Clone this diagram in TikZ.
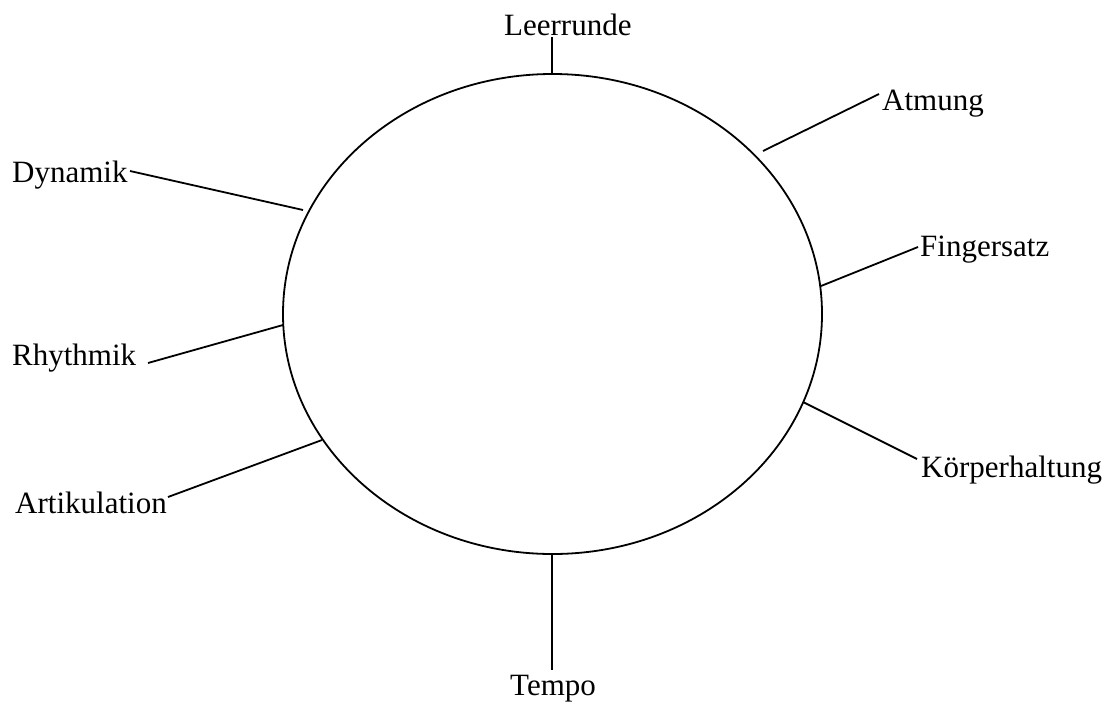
\documentclass[tikz,border=0pt]{standalone}
\usepackage{fontspec}
\setmainfont{Liberation Serif}
\begin{document}
\begin{tikzpicture}[x=1pt,y=-1pt,
  lbl/.style={inner sep=0pt,anchor=base west,font=\fontsize{31}{36}\selectfont},
  conn/.style={line width=1.8pt,black}]
\useasboundingbox (0,0) rectangle (1114,702);
\draw[line width=1.8pt] (552.5,314) ellipse [x radius=269.5, y radius=240];
% ellipse points
\coordinate (eL) at (552,74);
\coordinate (eA) at (763,151);
\coordinate (eF) at (821,286);
\coordinate (eK) at (803,402);
\coordinate (eT) at (552,555);
\coordinate (eAr) at (322,440);
\coordinate (eR) at (283,325);
\coordinate (eD) at (303,210);
% free ends
\coordinate (fL) at (552,37);
\coordinate (fA) at (879,94);
\coordinate (fF) at (918,247);
\coordinate (fK) at (917,459);
\coordinate (fT) at (552,670);
\coordinate (fAr) at (168,497);
\coordinate (fR) at (148,363);
\coordinate (fD) at (130,171);
% labels
\node[lbl] (tL) at (504,35) {Leerrunde};
\node[lbl] (tA) at (882,110) {Atmung};
\node[lbl] (tF) at (920,256) {Fingersatz};
\node[lbl] (tK) at (921,477) {Körperhaltung};
\node[lbl] (tT) at (510,695) {Tempo};
\node[lbl] (tAr) at (15,513) {Artikulation};
\node[lbl] (tR) at (12,365) {Rhythmik};
\node[lbl] (tD) at (12,182) {Dynamik};
% connectors
\draw[conn] (eL) -- (fL);
\draw[conn] (eA) -- (fA);
\draw[conn] (eF) -- (fF);
\draw[conn] (eK) -- (fK);
\draw[conn] (eT) -- (fT);
\draw[conn] (eAr) -- (fAr);
\draw[conn] (eR) -- (fR);
\draw[conn] (eD) -- (fD);
\end{tikzpicture}
\end{document}
